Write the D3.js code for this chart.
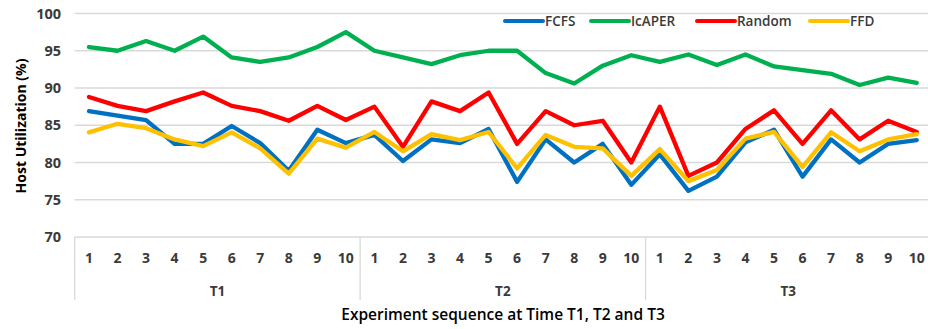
<!DOCTYPE html>
<html>
<head>
<meta charset="utf-8">
<script src="https://cdn.jsdelivr.net/npm/d3@7"></script>
<style>
  body { margin: 0; background: #fff; }
  svg { display: block; font-family: "Open Sans", sans-serif; }
</style>
</head>
<body>
<svg id="chart" width="928" height="329"></svg>
<script>
// categories
const groups = ["T1", "T2", "T3"];
const runs = ["1", "2", "3", "4", "5", "6", "7", "8", "9", "10"];
const yTicks = [70, 75, 80, 85, 90, 95, 100];

// series values (T1 run 1..10, T2 run 1..10, T3 run 1..10)
const fcfs = [86.9, 86.3, 85.7, 82.5, 82.5, 84.9, 82.6, 78.9, 84.4, 82.6,
              83.7, 80.2, 83.1, 82.6, 84.5, 77.4, 83.1, 80.0, 82.5, 77.0,
              81.1, 76.2, 78.1, 82.7, 84.4, 78.1, 83.1, 80.0, 82.5, 83.0];
const icaper = [95.5, 95.0, 96.3, 95.0, 96.9, 94.1, 93.5, 94.1, 95.5, 97.5,
                95.0, 94.1, 93.2, 94.4, 95.0, 95.0, 92.0, 90.6, 93.0, 94.4,
                93.5, 94.5, 93.1, 94.5, 92.9, 92.4, 91.9, 90.4, 91.4, 90.7];
const random = [88.8, 87.6, 86.9, 88.2, 89.4, 87.6, 86.9, 85.6, 87.6, 85.7,
                87.5, 82.1, 88.2, 86.9, 89.4, 82.5, 86.9, 85.0, 85.6, 80.0,
                87.5, 78.2, 80.0, 84.5, 87.0, 82.5, 87.0, 83.1, 85.6, 84.1];
const ffd = [84.05, 85.2, 84.6, 83.1, 82.2, 84.05, 81.9, 78.5, 83.2, 82.0,
             84.1, 81.5, 83.8, 83.0, 84.1, 79.2, 83.7, 82.1, 81.9, 78.2,
             81.8, 77.5, 79.0, 83.2, 84.1, 79.4, 84.05, 81.5, 83.1, 83.8];

const seriesNames = ["FCFS", "IcAPER", "Random", "FFD"];
const seriesColors = ["#0070C0", "#00B050", "#FF0000", "#FFC000"];
const seriesData = [fcfs, icaper, random, ffd];

const svg = d3.select("#chart");
const margin = { left: 74.7, top: 13.5, bottom: 237 };
const plotRight = 931;

// one slot per (group, run)
const keys = [];
groups.forEach(g => runs.forEach(r => keys.push(g + "-" + r)));

const x = d3.scaleBand().domain(keys).range([margin.left, plotRight]).padding(0);
const y = d3.scaleLinear().domain([70, 100]).range([margin.bottom, margin.top]);
const cx = i => x(keys[i]) + x.bandwidth() / 2;

// gridlines
svg.append("g").selectAll("line")
  .data(yTicks)
  .join("line")
  .attr("x1", margin.left).attr("x2", 928)
  .attr("y1", d => y(d)).attr("y2", d => y(d))
  .attr("stroke", "#d9d9d9").attr("stroke-width", 1.3);

// y labels
svg.append("g").selectAll("text")
  .data(yTicks)
  .join("text")
  .attr("x", 61).attr("y", d => y(d))
  .attr("dy", "0.35em")
  .attr("text-anchor", "end")
  .attr("font-size", 14.5).attr("font-weight", 700).attr("fill", "#3a3a3a")
  .text(d => d);

// y title
svg.append("text")
  .attr("transform", "translate(26,126) rotate(-90)")
  .attr("text-anchor", "middle")
  .attr("font-size", 14).attr("font-weight", 700).attr("fill", "#000")
  .text("Host Utilization (%)");

// group separators (multi-level category axis)
const sepX = groups.map(g => x(g + "-1"));
svg.append("g").selectAll("line")
  .data(sepX)
  .join("line")
  .attr("x1", d => d).attr("x2", d => d)
  .attr("y1", margin.bottom).attr("y2", 300)
  .attr("stroke", "#d9d9d9").attr("stroke-width", 1.3);

// run labels
svg.append("g").selectAll("text")
  .data(keys)
  .join("text")
  .attr("x", (d, i) => cx(i)).attr("y", 258)
  .attr("dy", "0.35em")
  .attr("text-anchor", "middle")
  .attr("font-size", 14).attr("font-weight", 700).attr("fill", "#3a3a3a")
  .text(d => d.split("-")[1]);

// group labels
svg.append("g").selectAll("text")
  .data(groups)
  .join("text")
  .attr("x", g => (x(g + "-1") + x(g + "-10") + x.bandwidth()) / 2)
  .attr("y", 291.5)
  .attr("dy", "0.35em")
  .attr("text-anchor", "middle")
  .attr("font-size", 13.5).attr("font-weight", 700).attr("fill", "#3a3a3a")
  .text(g => g);

// x title
svg.append("text")
  .attr("x", 503).attr("y", 315)
  .attr("dy", "0.35em")
  .attr("text-anchor", "middle")
  .attr("font-size", 15.5).attr("font-weight", 600).attr("fill", "#000")
  .text("Experiment sequence at Time T1, T2 and T3");

// lines
const line = d3.line()
  .x((d, i) => cx(i))
  .y(d => y(d));

svg.append("g").selectAll("path")
  .data(seriesData)
  .join("path")
  .attr("d", d => line(d))
  .attr("fill", "none")
  .attr("stroke", (d, i) => seriesColors[i])
  .attr("stroke-width", 4.3)
  .attr("stroke-linejoin", "round")
  .attr("stroke-linecap", "round");

// legend
const legendX = [505, 591, 697, 810];
const legend = svg.append("g").selectAll("g")
  .data(seriesNames)
  .join("g")
  .attr("transform", (d, i) => `translate(${legendX[i]},21)`);
legend.append("line")
  .attr("x1", 0).attr("x2", 38)
  .attr("stroke", (d, i) => seriesColors[i])
  .attr("stroke-width", 4).attr("stroke-linecap", "round");
legend.append("text")
  .attr("x", 40).attr("dy", "0.35em")
  .attr("font-size", 13.5).attr("font-weight", 600).attr("fill", "#3a3a3a")
  .text(d => d);
</script>
</body>
</html>
